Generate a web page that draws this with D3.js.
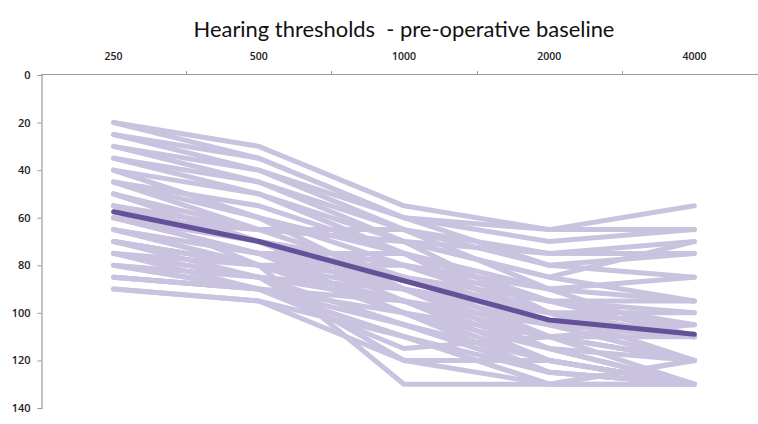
<!DOCTYPE html>
<html>
<head>
<meta charset="utf-8">
<script src="https://cdn.jsdelivr.net/npm/d3@7"></script>
<style>
  html, body { margin: 0; padding: 0; background: #fff; }
  svg { display: block; }
</style>
</head>
<body>
<svg id="chart" width="758" height="424"></svg>
<script>
// Test frequencies (Hz)
const frequencies = ["250", "500", "1000", "2000", "4000"];

// Threshold axis ticks (dB HL)
const yTicks = [0, 20, 40, 60, 80, 100, 120, 140];

// Individual patient thresholds, one row per patient: 250, 500, 1000, 2000, 4000 Hz
const patients = [
  [20, 30, 55, 65, 55],
  [20, 35, 60, 65, 65],
  [25, 35, 60, 70, 65],
  [25, 40, 65, 75, 70],
  [30, 40, 60, 80, 75],
  [30, 45, 70, 85, 95],
  [35, 45, 65, 90, 85],
  [35, 50, 75, 95, 100],
  [40, 50, 70, 100, 110],
  [40, 60, 80, 95, 105],
  [45, 55, 75, 105, 120],
  [45, 65, 85, 110, 110],
  [50, 70, 80, 100, 120],
  [50, 70, 90, 115, 130],
  [55, 65, 70, 75, 75],
  [55, 70, 85, 105, 110],
  [55, 70, 95, 120, 130],
  [60, 70, 80, 90, 110],
  [60, 75, 90, 110, 120],
  [60, 75, 100, 125, 130],
  [65, 75, 85, 100, 105],
  [65, 80, 95, 115, 130],
  [65, 80, 130, 130, 130],
  [70, 80, 90, 105, 110],
  [70, 80, 100, 120, 130],
  [70, 85, 120, 120, 130],
  [75, 85, 95, 110, 120],
  [75, 85, 105, 125, 130],
  [75, 80, 85, 95, 95],
  [80, 90, 100, 115, 120],
  [80, 90, 110, 130, 130],
  [80, 85, 90, 100, 100],
  [85, 90, 105, 120, 130],
  [85, 90, 95, 105, 110],
  [90, 95, 120, 130, 120],
  [90, 95, 110, 125, 130],
  [60, 65, 65, 80, 85],
  [50, 65, 70, 85, 70],
  [45, 60, 75, 90, 95],
  [40, 60, 90, 110, 105],
  [65, 75, 75, 95, 110],
  [70, 80, 80, 100, 110],
  [85, 90, 110, 130, 120],
  [55, 80, 100, 110, 120],
  [75, 90, 115, 110, 130]
];

// Group mean threshold at each frequency
const meanThresholds = [57.5, 70, 86.5, 103, 109];

const svg = d3.select("#chart");
const plotLeft = 41, plotRight = 767, plotTop = 74, plotBottom = 408;

const x = d3.scaleBand().domain(frequencies).range([plotLeft, plotRight]).padding(0);
const cx = f => x(f) + x.bandwidth() / 2;
const y = d3.scaleLinear().domain([0, 140]).range([plotTop + 1, plotBottom]);

// Title
const title = svg.append("text")
  .attr("x", 404).attr("y", 37)
  .attr("text-anchor", "middle")
  .style("white-space", "pre")
  .style("font-family", "Lato, 'Open Sans', sans-serif")
  .style("font-size", "21px")
  .style("fill", "#111")
  .text("Hearing thresholds  - pre-operative baseline");
const tw = title.node().getComputedTextLength();
title.style("font-size", (21 * 421 / tw).toFixed(2) + "px");

const axisColor = "#9a9a9a";
const labelFont = "'Open Sans', 'Liberation Sans', sans-serif";

// Top category axis: line plus boundary ticks, labels centred in each band
const xAxis = svg.append("g").attr("class", "x-axis");
xAxis.append("line")
  .attr("x1", plotLeft).attr("x2", 758)
  .attr("y1", plotTop + 0.5).attr("y2", plotTop + 0.5)
  .attr("stroke", axisColor).attr("stroke-width", 1.2);
xAxis.selectAll("line.tick")
  .data(frequencies.slice(1))
  .join("line")
  .attr("class", "tick")
  .attr("x1", d => Math.round(x(d)) + 0.5).attr("x2", d => Math.round(x(d)) + 0.5)
  .attr("y1", plotTop + 0.5).attr("y2", plotTop - 3)
  .attr("stroke", axisColor);
xAxis.selectAll("text")
  .data(frequencies)
  .join("text")
  .attr("x", d => cx(d))
  .attr("y", 60)
  .attr("text-anchor", "middle")
  .style("font-family", labelFont)
  .style("font-weight", 600)
  .style("font-size", "10.5px")
  .style("fill", "#222")
  .text(d => d);

// Left threshold axis
const yAxis = svg.append("g")
  .attr("transform", `translate(${plotLeft + 0.5},0)`)
  .call(d3.axisLeft(y).tickValues(yTicks).tickSize(4).tickPadding(7));
yAxis.select(".domain").attr("stroke", axisColor).attr("stroke-width", 1.2);
yAxis.selectAll(".tick line").attr("stroke", axisColor);
yAxis.selectAll(".tick text")
  .style("font-family", labelFont)
  .style("font-weight", 600)
  .style("font-size", "11px")
  .style("fill", "#222");

const line = d3.line()
  .x((d, i) => cx(frequencies[i]))
  .y(d => y(d));

// Individual patients
svg.append("g")
  .selectAll("path")
  .data(patients)
  .join("path")
  .attr("d", line)
  .attr("fill", "none")
  .attr("stroke", "#c9c3df")
  .attr("stroke-width", 5)
  .attr("stroke-linecap", "round")
  .attr("stroke-linejoin", "round");

// Mean
svg.append("path")
  .datum(meanThresholds)
  .attr("d", line)
  .attr("fill", "none")
  .attr("stroke", "#64519a")
  .attr("stroke-width", 5)
  .attr("stroke-linecap", "round")
  .attr("stroke-linejoin", "round");
</script>
</body>
</html>
